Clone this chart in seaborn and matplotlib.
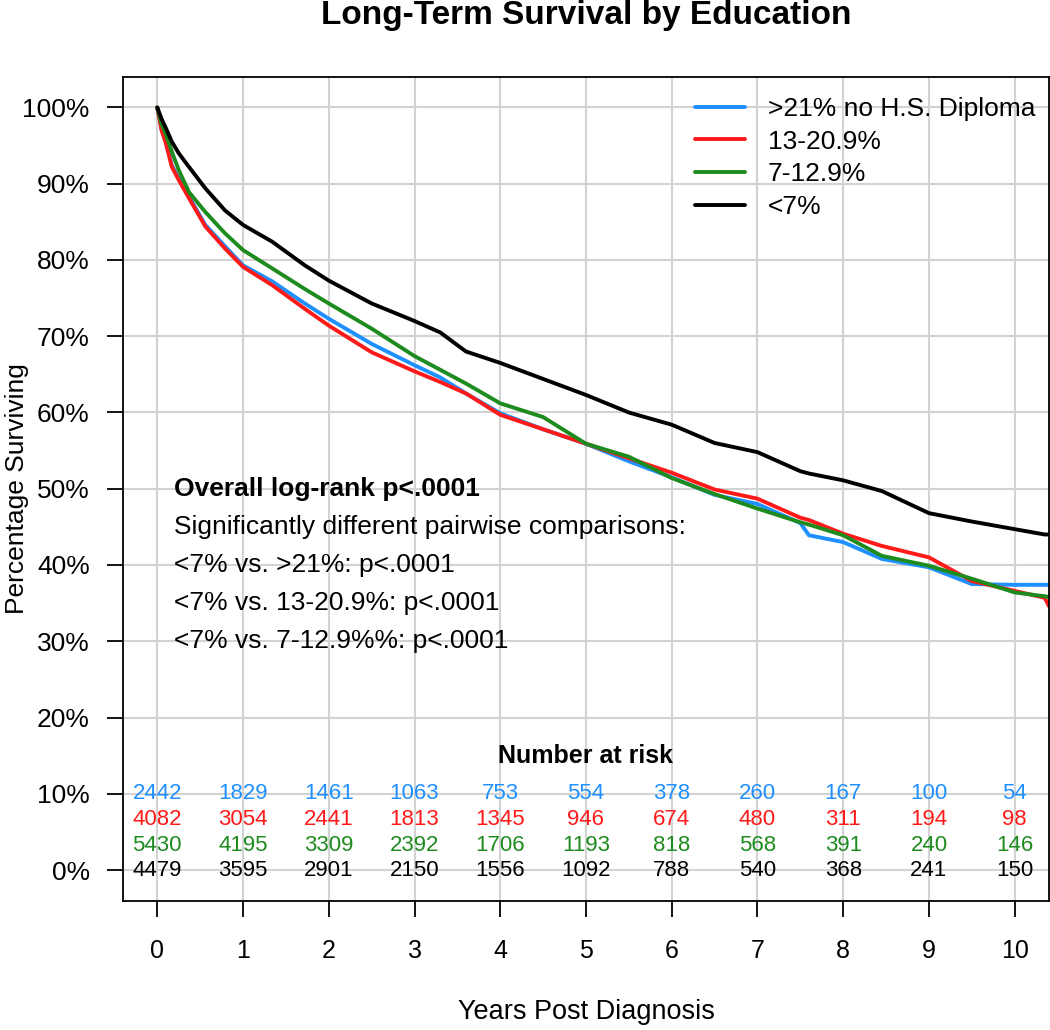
import matplotlib
matplotlib.use("Agg")
import matplotlib.pyplot as plt
import numpy as np
import pandas as pd
import seaborn as sns

# ---------------------------------------------------------------------------
# Data
# ---------------------------------------------------------------------------
GROUPS = [">21% no H.S. Diploma", "13-20.9%", "7-12.9%", "<7%"]
COLORS = ["#1E90FF", "#FF1A1A", "#1E8B1E", "#000000"]

YEARS = [0, 0.05, 0.1, 0.17, 0.25, 0.37, 0.56, 0.79, 1.0, 1.34, 1.72, 2.0,
         2.5, 3.0, 3.3, 3.6, 4.0, 4.5, 5.0, 5.5, 6.0, 6.5, 7.0, 7.5, 7.6, 8.0,
         8.45, 9.0, 9.5, 10.0, 10.35, 10.4]

SURV_BLUE = [100, 97.2, 95.5, 92.4, 90.7, 88.3, 84.6, 81.8, 79.3, 77.2, 74.3,
             72.3, 69.0, 66.2, 64.6, 62.5, 59.9, 57.8, 55.9, 53.6, 51.5, 49.2,
             48.0, 45.5, 43.9, 43.0, 40.8, 39.7, 37.5, 37.4, 37.4, 37.4]
SURV_RED = [100, 97.0, 95.3, 92.2, 90.5, 88.1, 84.4, 81.5, 79.1, 76.7, 73.6,
            71.4, 67.9, 65.4, 64.0, 62.5, 59.7, 57.8, 55.9, 54.0, 52.1, 49.9,
            48.7, 46.2, 45.9, 44.1, 42.5, 41.0, 37.9, 36.6, 35.7, 34.6]
SURV_GREEN = [100, 97.8, 96.5, 94.2, 91.8, 88.9, 86.3, 83.5, 81.3, 78.9, 76.2,
              74.3, 71.0, 67.4, 65.6, 63.8, 61.2, 59.4, 55.9, 54.2, 51.4, 49.3,
              47.4, 45.6, 45.3, 43.9, 41.2, 39.9, 38.2, 36.4, 35.9, 35.8]
SURV_BLACK = [100, 98.5, 97.3, 95.5, 94.0, 92.2, 89.4, 86.5, 84.6, 82.4, 79.3,
              77.3, 74.3, 72.0, 70.5, 68.0, 66.5, 64.4, 62.3, 60.0, 58.4, 56.0,
              54.8, 52.3, 52.0, 51.1, 49.7, 46.8, 45.7, 44.7, 44.0, 44.0]

RISK_YEARS = list(range(11))
RISK_BLUE = [2442, 1829, 1461, 1063, 753, 554, 378, 260, 167, 100, 54]
RISK_RED = [4082, 3054, 2441, 1813, 1345, 946, 674, 480, 311, 194, 98]
RISK_GREEN = [5430, 4195, 3309, 2392, 1706, 1193, 818, 568, 391, 240, 146]
RISK_BLACK = [4479, 3595, 2901, 2150, 1556, 1092, 788, 540, 368, 241, 150]
RISK_ROW_Y = [10, 6.6, 3.2, -0.1]

NOTES = [
    "Overall log-rank p<.0001",
    "Significantly different pairwise comparisons:",
    "<7% vs. >21%: p<.0001",
    "<7% vs. 13-20.9%: p<.0001",
    "<7% vs. 7-12.9%%: p<.0001",
]
NOTE_Y = [50, 45, 40, 35, 30]

# ---------------------------------------------------------------------------
# Style
# ---------------------------------------------------------------------------
sns.set_theme(style="whitegrid")
plt.rcParams["font.family"] = ["Liberation Sans", "DejaVu Sans"]
plt.rcParams.update({
    "text.color": "black",
    "axes.labelcolor": "black",
    "xtick.color": "black",
    "ytick.color": "black",
})

df = pd.concat([
    pd.DataFrame({"years": YEARS, "surv": s, "group": g})
    for g, s in zip(GROUPS, [SURV_BLUE, SURV_RED, SURV_GREEN, SURV_BLACK])
])

fig = plt.figure(figsize=(10.5, 10.3), dpi=100)
fig.patch.set_facecolor("white")
ax = fig.add_axes([123 / 1050, (1030 - 900.5) / 1030, 926 / 1050, 823.5 / 1030])
ax.set_facecolor("white")

sns.lineplot(data=df, x="years", y="surv", hue="group", hue_order=GROUPS,
             palette=COLORS, linewidth=2.8, estimator=None, sort=False, ax=ax)

ax.set_xlim(-0.4, 10.4)
ax.set_ylim(-4, 104)
ax.set_xticks(range(11))
ax.set_yticks(range(0, 101, 10))
ax.set_yticklabels([f"{v}%" for v in range(0, 101, 10)])
ax.grid(True, color="#D3D3D3", linewidth=1.5)
ax.set_axisbelow(True)
for sp in ax.spines.values():
    sp.set_color("black")
    sp.set_linewidth(1.3)
ax.tick_params(axis="both", direction="out", length=11.5, width=1.3,
               color="black", labelcolor="black", bottom=True, left=True)
ax.tick_params(axis="y", pad=12.5, labelsize=19)
ax.tick_params(axis="x", pad=16, labelsize=18)

ax.set_xlabel("Years Post Diagnosis", fontsize=19.5)
ax.set_ylabel("Percentage Surviving", fontsize=19)
ax.xaxis.set_label_coords(0.5, -0.12)
ax.yaxis.set_label_coords(-0.101, 0.5)
ax.set_title("Long-Term Survival by Education", fontsize=24, fontweight="bold",
             pad=38)

sns.move_legend(ax, loc="upper left", bbox_to_anchor=(695 / 1050, 1 - 97 / 1030),
                bbox_transform=fig.transFigure, frameon=False, title=None,
                fontsize=19, handlelength=1.9, handletextpad=0.85,
                labelspacing=0.33, borderpad=0, borderaxespad=0)
for h in ax.get_legend().legend_handles:
    h.set_linewidth(2.8)

# annotation block
for i, (txt, y) in enumerate(zip(NOTES, NOTE_Y)):
    ax.text(0.2, y, txt, ha="left", va="center", fontsize=19,
            fontweight="bold" if i == 0 else "normal")

# number at risk table
ax.text(5, 15, "Number at risk", ha="center", va="center", fontsize=18,
        fontweight="bold")
for row, col, y in zip([RISK_BLUE, RISK_RED, RISK_GREEN, RISK_BLACK], COLORS, RISK_ROW_Y):
    for x, n in zip(RISK_YEARS, row):
        ax.text(x, y, str(n), ha="center", va="center", fontsize=16, color=col)

fig.savefig("out.png", dpi=100)
